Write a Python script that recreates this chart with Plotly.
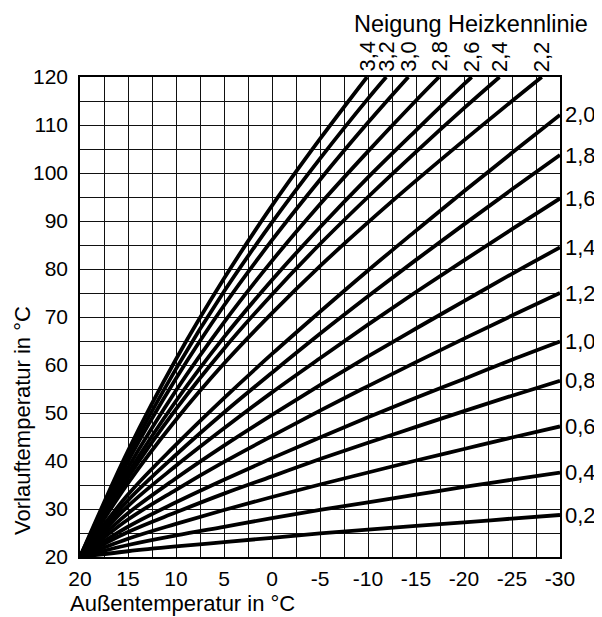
import plotly.graph_objects as go

# Außentemperatur (x) sample points
x_pts = [20, 15, 10, 5, 0, -5, -10, -15, -20, -25, -30]

# Heating curves (Neigung) -> Vorlauftemperatur values
curve_labels = ["0,2", "0,4", "0,6", "0,8", "1,0", "1,2", "1,4", "1,6", "1,8", "2,0",
                "2,2", "2,4", "2,6", "2,8", "3,0", "3,2", "3,4"]

c02 = [20, 21.2, 22.2, 23.1, 24.0, 24.9, 25.7, 26.5, 27.2, 28.0, 28.75]
c04 = [20, 22.5, 24.5, 26.3, 28.1, 29.8, 31.4, 33.0, 34.6, 36.1, 37.6]
c06 = [20, 23.8, 26.9, 29.8, 32.5, 35.1, 37.6, 40.1, 42.5, 44.9, 47.2]
c08 = [20, 25.2, 29.3, 33.2, 36.8, 40.4, 43.8, 47.1, 50.4, 53.6, 56.7]
c10 = [20, 26.3, 31.4, 36.1, 40.6, 44.9, 49.1, 53.2, 57.1, 61.1, 64.9]
c12 = [20, 27.8, 34.0, 39.8, 45.2, 50.5, 55.6, 60.6, 65.5, 70.3, 75.0]
c14 = [20, 29.1, 36.4, 43.2, 49.6, 55.8, 61.8, 67.6, 73.3, 79.0, 84.5]
c16 = [20, 30.6, 39.0, 46.8, 54.3, 61.4, 68.4, 75.2, 81.8, 88.3, 94.7]
c18 = [20, 31.8, 41.3, 50.1, 58.4, 66.5, 74.3, 81.9, 89.3, 96.6, 103.75]
c20 = [20, 33.0, 43.4, 53.1, 62.3, 71.1, 79.7, 88.0, 96.2, 104.2, 112.1]
# steep curves end where they reach 120 °C
c22_x = [20, 15, 10, 5, 0, -5, -10, -15, -20, -25, -28.1]
c22 = [20, 35.4, 48.6, 60.3, 70.8, 80.6, 89.7, 98.4, 106.8, 115.0, 120]
c24_x = [20, 15, 10, 5, 0, -5, -10, -15, -20, -23.7]
c24 = [20, 36.5, 50.8, 63.4, 74.7, 85.2, 95.0, 104.4, 113.5, 120]
c26_x = [20, 15, 10, 5, 0, -5, -10, -15, -20, -20.8]
c26 = [20, 37.4, 52.5, 65.8, 77.7, 88.7, 99.1, 108.9, 118.5, 120]
c28_x = [20, 15, 10, 5, 0, -5, -10, -15, -17.4]
c28 = [20, 38.6, 54.7, 68.9, 81.7, 93.5, 104.5, 115.1, 120]
c30_x = [20, 15, 10, 5, 0, -5, -10, -14.2]
c30 = [20, 40.0, 57.2, 72.4, 86.0, 98.6, 110.5, 120]
c32_x = [20, 15, 10, 5, 0, -5, -10, -11.9]
c32 = [20, 41.0, 59.2, 75.3, 89.7, 103.0, 115.5, 120]
c34_x = [20, 15, 10, 5, 0, -5, -9.9]
c34 = [20, 42.1, 61.2, 78.0, 93.2, 107.1, 120]

right_curves = [(x_pts, c02), (x_pts, c04), (x_pts, c06), (x_pts, c08), (x_pts, c10),
                (x_pts, c12), (x_pts, c14), (x_pts, c16), (x_pts, c18), (x_pts, c20)]
top_curves = [(c22_x, c22), (c24_x, c24), (c26_x, c26), (c28_x, c28),
              (c30_x, c30), (c32_x, c32), (c34_x, c34)]

x_ticks = [20, 15, 10, 5, 0, -5, -10, -15, -20, -25, -30]
y_ticks = [20, 30, 40, 50, 60, 70, 80, 90, 100, 110, 120]

FONT = "Liberation Sans, Arial, sans-serif"
FS = 20

# page layout (the page body has an 8 px margin)
OFF = 8
W, H = 594, 609
L, T = 72, 69
PW, PH = 480, 480
R, B = W - L - PW, H - T - PH


def paper(xp, yp):
    """page pixel position -> paper coordinates"""
    return (xp - OFF - L) / PW, (T + PH - (yp - OFF)) / PH


fig = go.Figure()
annotations = []

for (xs, ys), lab in zip(right_curves + top_curves, curve_labels):
    fig.add_trace(go.Scatter(x=xs, y=ys, mode="lines",
                             line=dict(color="black", width=3.8, shape="spline", smoothing=1.0),
                             showlegend=False, hoverinfo="skip"))

for (xs, ys), lab in zip(right_curves, curve_labels[:10]):
    annotations.append(dict(x=xs[-1], y=ys[-1], xref="x", yref="y", text=lab, showarrow=False,
                            xanchor="left", yanchor="middle", xshift=3,
                            font=dict(family=FONT, size=22, color="black")))

for (xs, ys), lab in zip(top_curves, curve_labels[10:]):
    annotations.append(dict(x=xs[-1], y=1, xref="x", yref="paper", text=lab, showarrow=False,
                            textangle=-90, xanchor="center", yanchor="bottom", yshift=3,
                            font=dict(family=FONT, size=22, color="black")))

px_, py_ = paper(590, 24)
annotations.append(dict(x=px_, y=py_, xref="paper", yref="paper", text="Neigung Heizkennlinie",
                        showarrow=False, xanchor="right", yanchor="middle",
                        font=dict(family=FONT, size=23.5, color="black")))
px_, py_ = paper(68, 603)
annotations.append(dict(x=px_, y=py_, xref="paper", yref="paper", text="Außentemperatur in °C",
                        showarrow=False, xanchor="left", yanchor="middle",
                        font=dict(family=FONT, size=22, color="black")))
px_, py_ = paper(22, 421)
annotations.append(dict(x=px_, y=py_, xref="paper", yref="paper", text="Vorlauftemperatur in °C",
                        showarrow=False, textangle=-90, xanchor="center", yanchor="middle",
                        font=dict(family=FONT, size=22, color="black")))

fig.update_layout(
    width=W, height=H,
    margin=dict(l=L, r=R, t=T, b=B, pad=0),
    paper_bgcolor="white", plot_bgcolor="white",
    font=dict(family=FONT, size=FS, color="black"),
    annotations=annotations,
    xaxis=dict(range=[20, -30], tickvals=x_ticks, ticktext=[str(v) for v in x_ticks],
               showgrid=True, gridcolor="#111", gridwidth=1.2,
               minor=dict(dtick=2.5, showgrid=True, gridcolor="#111", gridwidth=1.2),
               showline=True, linecolor="black", linewidth=1.5, mirror=True,
               ticks="", zeroline=False, fixedrange=True, ticklabelstandoff=2,
               tickfont=dict(family=FONT, size=21, color="black")),
    yaxis=dict(range=[20, 120], tickvals=y_ticks,
               showgrid=True, gridcolor="#111", gridwidth=1.2,
               minor=dict(dtick=5, showgrid=True, gridcolor="#111", gridwidth=1.2),
               showline=True, linecolor="black", linewidth=1.5, mirror=True,
               ticks="", zeroline=False, fixedrange=True, ticklabelstandoff=6,
               tickfont=dict(family=FONT, size=21, color="black")),
)

fig.write_html("out.html")
